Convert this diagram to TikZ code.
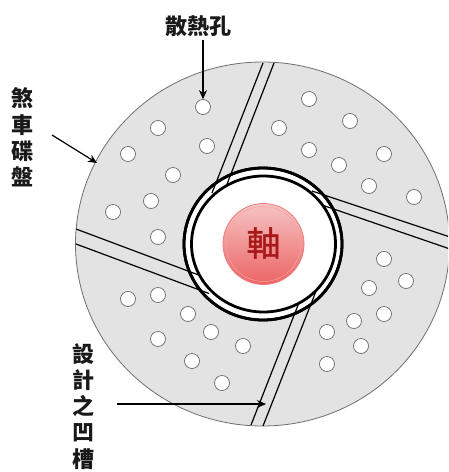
\documentclass[tikz,border=0pt]{standalone}
\usepackage{fontspec}
\usetikzlibrary{shapes.geometric,arrows.meta}
\newfontfamily\cjk{Noto Sans CJK TC}
\newfontfamily\cjkaxle[FakeBold=1.2]{Noto Sans CJK TC}
\definecolor{discfill}{HTML}{E3E3E3}
\definecolor{discedge}{HTML}{6E6E6E}
\definecolor{holeedge}{HTML}{6A6A6A}
\definecolor{hubtop}{HTML}{F6C4C4}
\definecolor{hubbot}{HTML}{EC6464}
\definecolor{hubedge}{HTML}{F07C7C}
\definecolor{hubtext}{HTML}{A81818}
\tikzset{
  discshape/.style={ellipse,draw=discedge,fill=discfill,line width=0.8pt,inner sep=0pt,minimum width=374pt,minimum height=364pt},
  ringouter/.style={ellipse,draw=black,fill=white,line width=2.8pt,inner sep=0pt,minimum width=158pt,minimum height=152pt},
  ringinner/.style={ellipse,draw=black,fill=white,line width=2.8pt,inner sep=0pt,minimum width=144pt,minimum height=136pt},
  hubshape/.style={circle,draw=hubedge,line width=0.8pt,top color=hubtop,bottom color=hubbot,inner sep=0pt,minimum size=81pt},
  hubring/.style={circle,draw=hubedge!70,line width=0.5pt,inner sep=0pt,minimum size=75pt},
  holeshape/.style={circle,draw=holeedge,fill=white,line width=0.7pt,inner sep=0pt,minimum size=15pt},
  groove/.style={draw=black,line width=1.2pt},
  pointer/.style={draw=black,line width=1.2pt,-{Stealth[length=9pt,width=8pt]}},
  cjklabel/.style={inner sep=0pt,font=\cjk\bfseries\fontsize{22}{24}\selectfont,text=black!90},
}
\begin{document}
\begin{tikzpicture}[x=1pt,y=-1pt]
\useasboundingbox (0,0) rectangle (448,472);
\clip (0,0) rectangle (448,472);
\node[discshape] (disc) at (262.5,244) {};
\node[ringouter] (ringA) at (263,244) {};
% grooves run across the outer ring's gap up to the inner ring
\coordinate (g1a) at (263,63);  \coordinate (g1b) at (212,193);
\coordinate (g2a) at (274,63);  \coordinate (g2b) at (222,197);
\coordinate (g3a) at (450,237); \coordinate (g3b) at (312,191);
\coordinate (g4a) at (450,249); \coordinate (g4b) at (322,205);
\coordinate (g5a) at (76,229);  \coordinate (g5b) at (200,275.5);
\coordinate (g6a) at (76,244);  \coordinate (g6b) at (209,293.5);
\coordinate (g7a) at (251,425); \coordinate (g7b) at (302,295);
\coordinate (g8a) at (263,426); \coordinate (g8b) at (320,281);
\foreach \a/\b in {g1a/g1b,g2a/g2b,g3a/g3b,g4a/g4b,g5a/g5b,g6a/g6b,g7a/g7b,g8a/g8b}
  \path[groove] (\a) -- (\b);
% outer ring stroke redrawn over the grooves, then inner ring and hub
\node[ringouter,fill=none] (ringC) at (263,244) {};
\node[ringinner] (ringB) at (263.5,244) {};
\node[hubshape] (hub) at (263.5,244) {};
\node[hubring] (hubin) at (263.5,244) {};
\node[inner sep=0pt,font=\cjkaxle\fontsize{34}{34}\selectfont,text=hubtext] (axle) at (263.5,243) {軸};
% holes
\foreach \n/\x/\y in {
 1/203/107,2/158/128,3/128/154,4/207/146,5/173/175,6/151/201,7/113/212,8/158/237,
 9/309/99,10/350/121,11/279/128,12/309/150,13/339/165,14/384/154,15/369/186,16/414/197,
 17/128/299,18/158/295,19/188/314,20/211/332,21/158/339,22/192/361,23/243/346,24/222/383,
 25/384/259,26/406/281,27/369/288,28/384/314,29/354/321,30/327/332,31/361/346,32/327/364}
  \node[holeshape] (hole\n) at (\x,\y) {};
% labels
\node[cjklabel] (lblhole) at (198,26) {散熱孔};
\foreach \n/\t/\y in {a/煞/98,b/車/125,c/碟/151,d/盤/177}
  \node[cjklabel] (lbldisc\n) at (23,\y) {\t};
\foreach \n/\t/\y in {a/設/354,b/計/380,c/之/406,d/凹/433,e/槽/459}
  \node[cjklabel] (lblgroove\n) at (83,\y) {\t};
% pointers
\coordinate (discpt) at (97,163);
\coordinate (discfrom) at (52,135);
\coordinate (groovept) at (266,404);
\coordinate (groovefrom) at (117,404);
\path[pointer] (lblhole.south -| hole1.north) ++(0,3) -- (hole1.north);
\path[pointer] (discfrom) -- (discpt);
\path[pointer] (groovefrom) -- (groovept);
\end{tikzpicture}
\end{document}
